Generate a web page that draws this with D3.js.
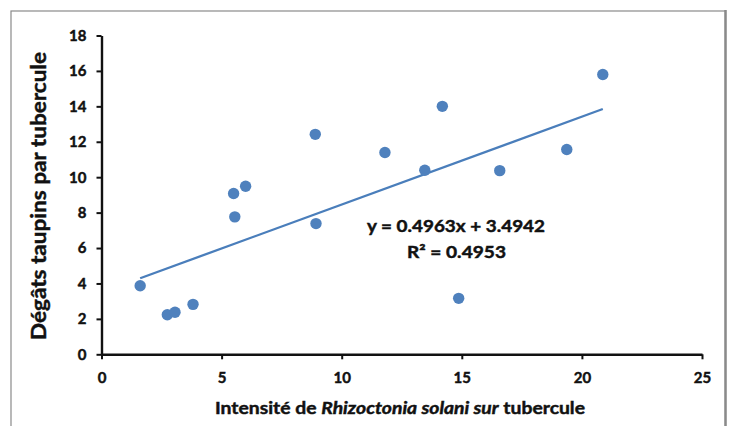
<!DOCTYPE html>
<html><head><meta charset="utf-8">
<script src="https://cdn.jsdelivr.net/npm/d3@7"></script>
<style>body{margin:0;background:#fff}svg{display:block}</style>
</head><body>
<script>
const xValues = [1.61, 2.74, 3.06, 3.81, 5.50, 5.55, 6.00, 8.90, 8.93, 11.80, 13.46, 14.19, 14.87, 16.58, 19.37, 20.87];
const yValues = [3.87, 2.23, 2.37, 2.82, 9.08, 7.76, 9.49, 12.42, 7.38, 11.39, 10.39, 14.00, 3.16, 10.37, 11.56, 15.80];
const xTicks = [0, 5, 10, 15, 20, 25];
const yTicks = [0, 2, 4, 6, 8, 10, 12, 14, 16, 18];
const slope = 0.4963, intercept = 3.4942, r2 = 0.4953;
const eqLabel = "y = 0.4963x + 3.4942";
const r2Label = "R² = 0.4953";
const yTitle = "Dégâts taupins par tubercule";

const W = 729, H = 426;
const svg = d3.select("body").append("svg").attr("width", W).attr("height", H);
const font = "Lato, 'Liberation Sans', sans-serif";
const heavy = sel => sel.attr("stroke", "#111").attr("stroke-width", 0.45).attr("paint-order", "stroke");

// frame
svg.append("rect").attr("x", 11).attr("y", 11).attr("width", 714.5).attr("height", 430)
  .attr("fill", "none").attr("stroke", "#8a8a8a").attr("stroke-width", 1.2);
svg.append("line").attr("x1", 725.5).attr("x2", 725.5).attr("y1", 10).attr("y2", H)
  .attr("stroke", "#8a8a8a").attr("stroke-width", 2.5);

const x = d3.scaleLinear().domain([0, 25]).range([101.5, 702]);
const y = d3.scaleLinear().domain([0, 18]).range([354.3, 35.5]);

const xAxis = svg.append("g").attr("transform", `translate(0,${y(0)})`)
  .call(d3.axisBottom(x).tickValues(xTicks).tickSize(5).tickSizeOuter(0).tickPadding(10));
const yAxis = svg.append("g").attr("transform", `translate(${x(0)},0)`)
  .call(d3.axisLeft(y).tickValues(yTicks).tickSize(5).tickSizeOuter(0).tickPadding(10));
[xAxis, yAxis].forEach(a => {
  a.select(".domain").attr("stroke", "#111").attr("stroke-width", 2.4);
  a.selectAll(".tick line").attr("stroke", "#111").attr("stroke-width", 2);
  a.selectAll(".tick text").attr("font-family", font).attr("font-weight", "bold")
    .attr("font-size", 15).attr("fill", "#111").call(heavy);
});
xAxis.selectAll(".tick text").attr("dy", "0.9em");

// trendline
const xMin = d3.min(xValues), xMax = d3.max(xValues);
svg.append("line")
  .attr("x1", x(xMin)).attr("y1", y(slope * xMin + intercept))
  .attr("x2", x(xMax)).attr("y2", y(slope * xMax + intercept))
  .attr("stroke", "#4a7ebb").attr("stroke-width", 2.3);

// points
svg.append("g").selectAll("circle").data(xValues.map((v, i) => [v, yValues[i]]))
  .join("circle").attr("cx", d => x(d[0])).attr("cy", d => y(d[1])).attr("r", 5.7)
  .attr("fill", "#4f81bd");

// equation
svg.append("text").attr("x", 456).attr("y", 232).attr("text-anchor", "middle")
  .attr("font-family", font).attr("font-weight", "bold").attr("font-size", 17).attr("fill", "#111")
  .attr("textLength", 178).attr("lengthAdjust", "spacingAndGlyphs").call(heavy).text(eqLabel);
svg.append("text").attr("x", 456.5).attr("y", 258).attr("text-anchor", "middle")
  .attr("font-family", font).attr("font-weight", "bold").attr("font-size", 17).attr("fill", "#111")
  .attr("textLength", 99).attr("lengthAdjust", "spacingAndGlyphs").call(heavy).text(r2Label);

// y title
svg.append("text").attr("transform", `translate(46,196) rotate(-90)`).attr("text-anchor", "middle")
  .attr("font-family", font).attr("font-weight", "bold").attr("font-size", 21).attr("fill", "#111")
  .attr("textLength", 288).attr("lengthAdjust", "spacingAndGlyphs").call(heavy).text(yTitle);

// x title
const xt = svg.append("text").attr("x", 400).attr("y", 414).attr("text-anchor", "middle")
  .attr("font-family", font).attr("font-weight", "bold").attr("font-size", 17).attr("fill", "#111")
  .attr("textLength", 370).attr("lengthAdjust", "spacingAndGlyphs").call(heavy);
xt.append("tspan").text("Intensité de ");
xt.append("tspan").attr("font-style", "italic").text("Rhizoctonia solani sur");
xt.append("tspan").text(" tubercule");
</script>
</body></html>
